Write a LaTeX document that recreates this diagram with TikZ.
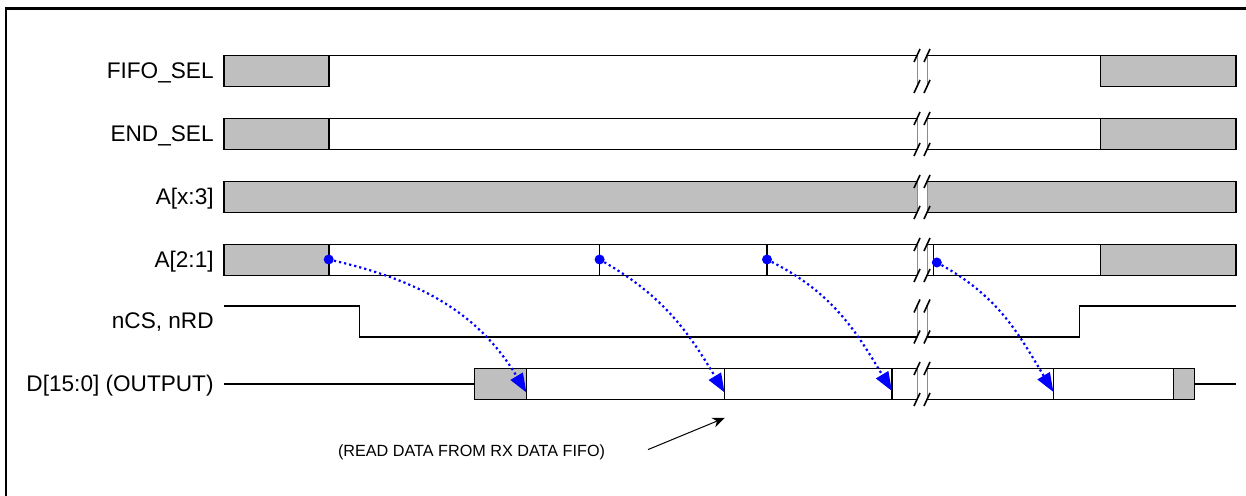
\documentclass[tikz,border=0pt]{standalone}
\usepackage{fontspec}
\setmainfont{Liberation Sans}
\usetikzlibrary{arrows.meta}
\tikzstyle{sig} = [draw=black, line width=0.8pt]
\tikzstyle{inv} = [sig, fill=black!25]
\tikzstyle{lbl} = [anchor=base east, inner sep=0pt, font=\fontsize{11.3}{13.5}\selectfont]
\tikzstyle{dot} = [circle, fill=blue, inner sep=0pt, minimum size=5pt]
\tikzstyle{link} = [blue, line width=1.1pt, dash pattern=on 1.1pt off 1.5pt, -{Triangle[length=9.5pt,width=7pt]}]
\tikzstyle{brk} = [draw=black!45, line width=0.5pt]
\tikzstyle{slash} = [draw=black, line width=0.8pt]
\newcommand{\axisbreak}[2]{%
  \fill[white] (917,#1-4) rectangle (927,#2+4);
  \draw[brk] (917,#1) -- (917,#2) (927,#1) -- (927,#2);
  \draw[slash] (914,#1-6.5) -- (920,#1+6.5) (924,#1-6.5) -- (930,#1+6.5)
               (914,#2-6.5) -- (920,#2+6.5) (924,#2-6.5) -- (930,#2+6.5);
}

\begin{document}
\begin{tikzpicture}[x=0.5pt, y=0.5pt]
		\useasboundingbox (0,0) rectangle (1246,496);
		\draw[line width=1.2pt] (6,-10) |- (1260,487.5);
		% signal names
		\node (fifosel) [lbl] at (214,417.5) {FIFO\_SEL};
		\node (endsel) [lbl] at (214,354.5) {END\_SEL};
		\node (ahigh) [lbl] at (214,291.5) {A[x:3]};
		\node (alow) [lbl] at (214,228.5) {A[2:1]};
		\node (ncs) [lbl] at (214,167.5) {nCS, nRD};
		\node (data) [lbl] at (214,104.5) {D[15:0] (OUTPUT)};
		% FIFO_SEL
		\draw[inv] (224,409.5) rectangle (328.7,440.5);
		\draw[sig] (328.7,440.5) -- (1100.3,440.5);
		\draw[inv] (1100.3,409.5) rectangle (1236,440.5);
		% END_SEL
		\draw[inv] (224,346.5) rectangle (328.7,377.5);
		\draw[sig] (328.7,346.5) rectangle (1100.3,377.5);
		\draw[inv] (1100.3,346.5) rectangle (1236,377.5);
		% A[x:3]
		\draw[inv] (224,283.5) rectangle (1236,314.5);
		% A[2:1]
		\draw[inv] (224,220.5) rectangle (328.7,251.5);
		\draw[sig] (328.7,220.5) rectangle (1100.3,251.5);
		\draw[sig] (599.6,220.5) -- (599.6,251.5) (767,220.5) -- (767,251.5) (933.3,220.5) -- (933.3,251.5);
		\draw[inv] (1100.3,220.5) rectangle (1236,251.5);
		% nCS, nRD
		\draw[sig] (224,190) -| (359.5,159) -| (1079.5,190) -- (1236,190);
		% D[15:0]
		\draw[sig] (224,112) -- (474.6,112);
		\draw[inv] (474.6,96.5) rectangle (526.4,127.5);
		\draw[sig] (526.4,96.5) rectangle (1173.5,127.5);
		\draw[sig] (724.6,96.5) -- (724.6,127.5) (891.9,96.5) -- (891.9,127.5) (1053.4,96.5) -- (1053.4,127.5);
		\draw[inv] (1173.5,96.5) rectangle (1194.4,127.5);
		\draw[sig] (1194.4,112) -- (1236,112);
		% breaks
		\axisbreak{409.5}{440.5}
		\axisbreak{346.5}{377.5}
		\axisbreak{283.5}{314.5}
		\axisbreak{220.5}{251.5}
		\axisbreak{159}{190}
		\axisbreak{96.5}{127.5}
		% address to data
		\node (a1) [dot] at (328.7,236.5) {};
		\node (a2) [dot] at (599.6,236.5) {};
		\node (a3) [dot] at (767,236.5) {};
		\node (a4) [dot] at (936.8,233.5) {};
		\coordinate (t1) at (526.4,103.5);
		\coordinate (t2) at (724.6,103.5);
		\coordinate (t3) at (891.9,105);
		\coordinate (t4) at (1053.4,104);
		\draw[link] (a1) to[out=-13,in=121] (t1);
		\draw[link] (a2) to[out=-30,in=121] (t2);
		\draw[link] (a3) to[out=-27,in=121] (t3);
		\draw[link] (a4) to[out=-29,in=121] (t4);
		% note
		\node (note) [anchor=base, inner sep=0pt, font=\fontsize{8.1}{10}\selectfont] at (471.5,39.5) {(READ DATA FROM RX DATA FIFO)};
		\coordinate (tail) at (648,46.4);
		\coordinate (tip) at (724.5,78);
		\draw[line width=0.5pt, -{Stealth[length=6pt,width=5pt]}] (tail) -- (tip);
	\end{tikzpicture}
\end{document}
